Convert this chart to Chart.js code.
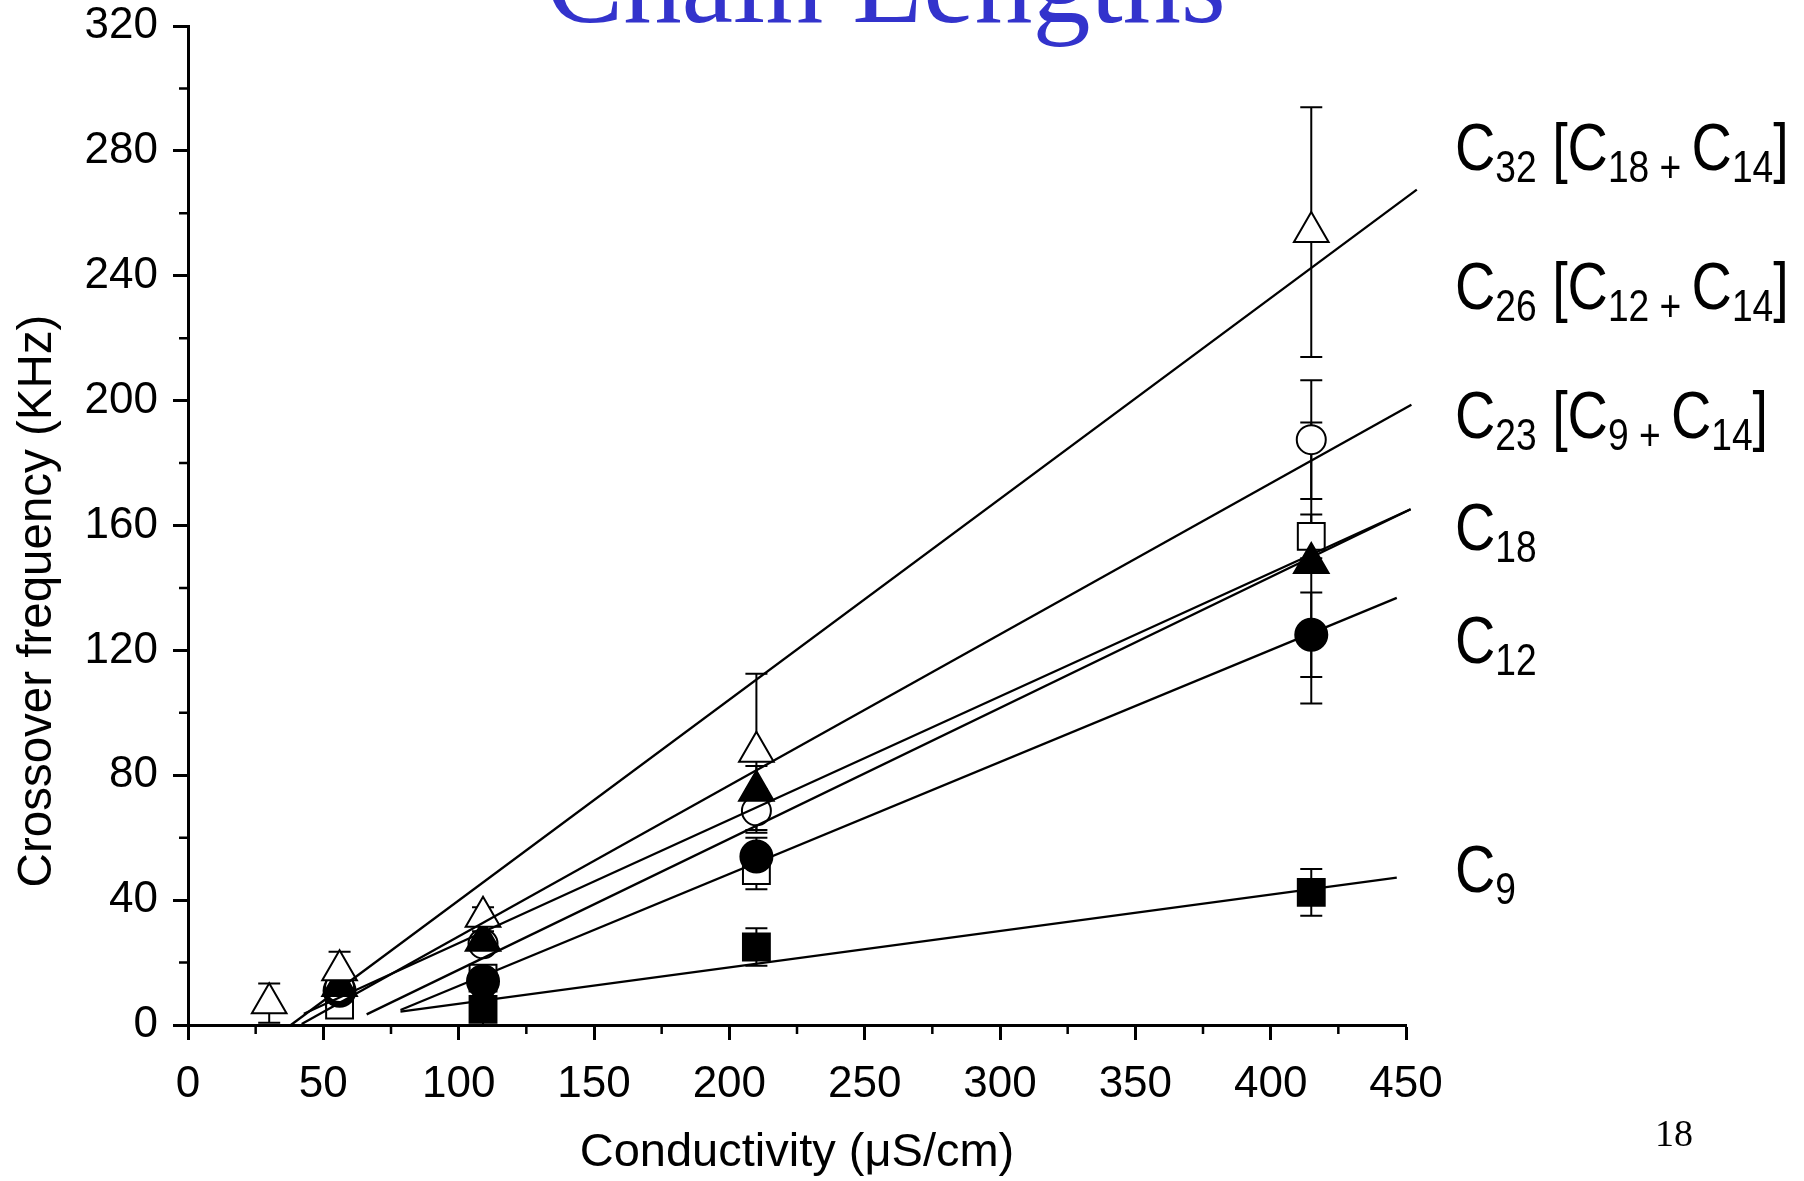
<!DOCTYPE html>
<html lang="en">
<head>
<meta charset="UTF-8">
<title>Chain Lengths</title>
<script src="https://cdn.jsdelivr.net/npm/chart.js"></script>
<style>
  body { margin: 0; background: #fff; }
  canvas { display: block; }
</style>
</head>
<body>
<canvas id="chart" width="1804" height="1181"></canvas>
<script>
// conductivity (uS/cm) of each measurement
const conductivity = [30, 56, 109, 210, 415];

// crossover frequency (KHz) and error, null = not measured
const c32 = [7, 17.5, 34.7, 87.5, 254];
const c32Err = [6.3, 6, 3, 25, 40];
const c26 = [null, 12, 26, 68.6, 187.5];
const c26Err = [null, 2, 3, 7, 19];
const c23 = [null, 6.4, 15, 49.5, 156.5];
const c23Err = [null, 2, 3, 6, 7];
const c18 = [null, 12.5, 27, 75, 148];
const c18Err = [null, 2, 3, 8, 45];
const c12 = [null, 11, 14, 54, 125];
const c12Err = [null, 2, 3, 6, 13.5];
const c9 = [null, 10, 5, 25, 42.5];
const c9Err = [null, 2, 5, 6, 7.5];

// linear fits, [x0, x1] and [y0, y1]
const fitC32 = [[38, 454], [0, 267.6]];
const fitC26 = [[42, 452], [0.3, 198.7]];
const fitC23 = [[66, 451.7], [3.4, 165.2]];
const fitC18 = [[42.8, 451.7], [3.6, 165.2]];
const fitC12 = [[78.5, 446.6], [4.8, 136.8]];
const fitC9 = [[78.5, 446.6], [4.3, 47.2]];

// labels on the right: main text and subscripts alternate
const labelC32 = ['C', '32', ' [C', '18 + ', 'C', '14', ']'];
const labelC26 = ['C', '26', ' [C', '12 + ', 'C', '14', ']'];
const labelC23 = ['C', '23', ' [C', '9 + ', 'C', '14', ']'];
const labelC18 = ['C', '18'];
const labelC12 = ['C', '12'];
const labelC9 = ['C', '9'];

const xTicks = [0, 50, 100, 150, 200, 250, 300, 350, 400, 450];
const yTicks = [0, 40, 80, 120, 160, 200, 240, 280, 320];

const SANS = '"Liberation Sans", Arial, sans-serif';
const SERIF = '"Liberation Serif", "Times New Roman", serif';

function points(ys) {
  return ys.map((v, i) => v === null ? null : { x: conductivity[i], y: v }).filter(p => p);
}
function errs(ys, es) {
  return es.filter((e, i) => ys[i] !== null);
}
function fitLine(f) {
  return {
    type: 'scatter',
    data: [{ x: f[0][0], y: f[1][0] }, { x: f[0][1], y: f[1][1] }],
    showLine: true,
    borderColor: '#000',
    borderWidth: 2.3,
    pointRadius: 0,
    order: 0
  };
}
function markers(ys, es, style, radius, fill, order) {
  return {
    data: points(ys),
    errors: errs(ys, es),
    pointStyle: style,
    pointRadius: radius,
    pointHoverRadius: radius,
    pointBackgroundColor: fill,
    pointBorderColor: '#000',
    pointBorderWidth: 2,
    showLine: false,
    order: order
  };
}

const errorBars = {
  id: 'errorBars',
  beforeDatasetsDraw(chart) {
    const { ctx, scales: { x, y } } = chart;
    ctx.save();
    ctx.strokeStyle = '#000';
    ctx.lineWidth = 2;
    chart.data.datasets.forEach(ds => {
      if (!ds.errors) return;
      ds.data.forEach((p, i) => {
        const e = ds.errors[i];
        const px = x.getPixelForValue(p.x);
        const top = y.getPixelForValue(p.y + e);
        const bot = y.getPixelForValue(Math.max(p.y - e, 0));
        ctx.beginPath();
        ctx.moveTo(px, top); ctx.lineTo(px, bot);
        ctx.moveTo(px - 11, top); ctx.lineTo(px + 11, top);
        ctx.moveTo(px - 11, bot); ctx.lineTo(px + 11, bot);
        ctx.stroke();
      });
    });
    ctx.restore();
  }
};

// the labels in the picture use a tall, narrow face: squeeze it sideways
function drawLabel(ctx, parts, x, y) {
  ctx.save();
  ctx.translate(x, y);
  ctx.scale(0.845, 1);
  let cx = 0;
  parts.forEach((t, i) => {
    const sub = i % 2 === 1;
    ctx.font = sub ? '44px ' + SANS : '66px ' + SANS;
    ctx.fillText(t, cx, sub ? 12 : 0);
    cx += ctx.measureText(t).width;
  });
  ctx.restore();
}

const decorations = {
  id: 'decorations',
  afterDraw(chart) {
    const { ctx, scales: { x, y }, chartArea } = chart;
    ctx.save();
    // minor ticks
    ctx.strokeStyle = '#000';
    ctx.lineWidth = 2.5;
    ctx.beginPath();
    for (let v = 25; v < 450; v += 50) {
      const px = x.getPixelForValue(v);
      ctx.moveTo(px, chartArea.bottom);
      ctx.lineTo(px, chartArea.bottom + 9);
    }
    for (let v = 20; v < 320; v += 40) {
      const py = y.getPixelForValue(v);
      ctx.moveTo(chartArea.left, py);
      ctx.lineTo(chartArea.left - 9, py);
    }
    ctx.stroke();

    // series labels
    ctx.fillStyle = '#000';
    ctx.textBaseline = 'alphabetic';
    ctx.textAlign = 'left';
    const lx = x.getPixelForValue(450) + 49;
    drawLabel(ctx, labelC32, lx, y.getPixelForValue(274));
    drawLabel(ctx, labelC26, lx, y.getPixelForValue(229.5));
    drawLabel(ctx, labelC23, lx, y.getPixelForValue(188));
    drawLabel(ctx, labelC18, lx, y.getPixelForValue(152));
    drawLabel(ctx, labelC12, lx, y.getPixelForValue(116));
    drawLabel(ctx, labelC9, lx, y.getPixelForValue(42.5));

    // y axis title
    ctx.save();
    ctx.translate(38, 601);
    ctx.rotate(-Math.PI / 2);
    ctx.textAlign = 'center';
    ctx.textBaseline = 'middle';
    ctx.font = '47.5px ' + SANS;
    ctx.fillText('Crossover frequency (KHz)', 0, 0);
    ctx.restore();

    // slide title, cut off at the top
    ctx.fillStyle = '#3333cc';
    ctx.textAlign = 'center';
    ctx.font = '116px ' + SERIF;
    ctx.fillText('Chain Lengths', 886, 22);

    // slide number
    ctx.fillStyle = '#000';
    ctx.font = '38px ' + SERIF;
    ctx.fillText('18', 1674, 1146);
    ctx.restore();
  }
};

new Chart(document.getElementById('chart'), {
  type: 'scatter',
  data: {
    datasets: [
      fitLine(fitC32), fitLine(fitC26), fitLine(fitC23),
      fitLine(fitC18), fitLine(fitC12), fitLine(fitC9),
      markers(c32, c32Err, 'triangle', 20, '#fff', 1),
      markers(c18, c18Err, 'triangle', 20, '#000', 2),
      markers(c26, c26Err, 'circle', 14.5, '#fff', 3),
      markers(c12, c12Err, 'circle', 16, '#000', 4),
      markers(c23, c23Err, 'rect', 19, '#fff', 5),
      markers(c9, c9Err, 'rect', 19, '#000', 6)
    ]
  },
  options: {
    responsive: false,
    animation: false,
    events: [],
    clip: false,
    layout: { padding: { left: 0, right: 398, top: 26, bottom: 0 } },
    plugins: { legend: { display: false }, tooltip: { enabled: false } },
    scales: {
      x: {
        type: 'linear',
        min: 0, max: 450,
        afterBuildTicks: s => { s.ticks = xTicks.map(v => ({ value: v })); },
        afterFit: s => { s.height = 156; s.paddingLeft = 0; s.paddingRight = 0; },
        border: { display: true, color: '#000', width: 3 },
        grid: { drawOnChartArea: false, drawTicks: true, tickLength: 15, tickWidth: 3, tickColor: '#000' },
        ticks: { color: '#000', font: { family: SANS, size: 44 }, padding: 18, maxRotation: 0 },
        title: { display: true, text: 'Conductivity (μS/cm)', color: '#000', font: { family: SANS, size: 47 }, padding: { top: 0, bottom: 0 } }
      },
      y: {
        type: 'linear',
        min: 0, max: 320,
        afterBuildTicks: s => { s.ticks = yTicks.map(v => ({ value: v })); },
        afterFit: s => { s.width = 188; s.paddingTop = 0; s.paddingBottom = 0; },
        border: { display: true, color: '#000', width: 3 },
        grid: { drawOnChartArea: false, drawTicks: true, tickLength: 15, tickWidth: 3, tickColor: '#000' },
        ticks: { color: '#000', font: { family: SANS, size: 44 }, padding: 15 }
      }
    }
  },
  plugins: [errorBars, decorations]
});
</script>
</body>
</html>
